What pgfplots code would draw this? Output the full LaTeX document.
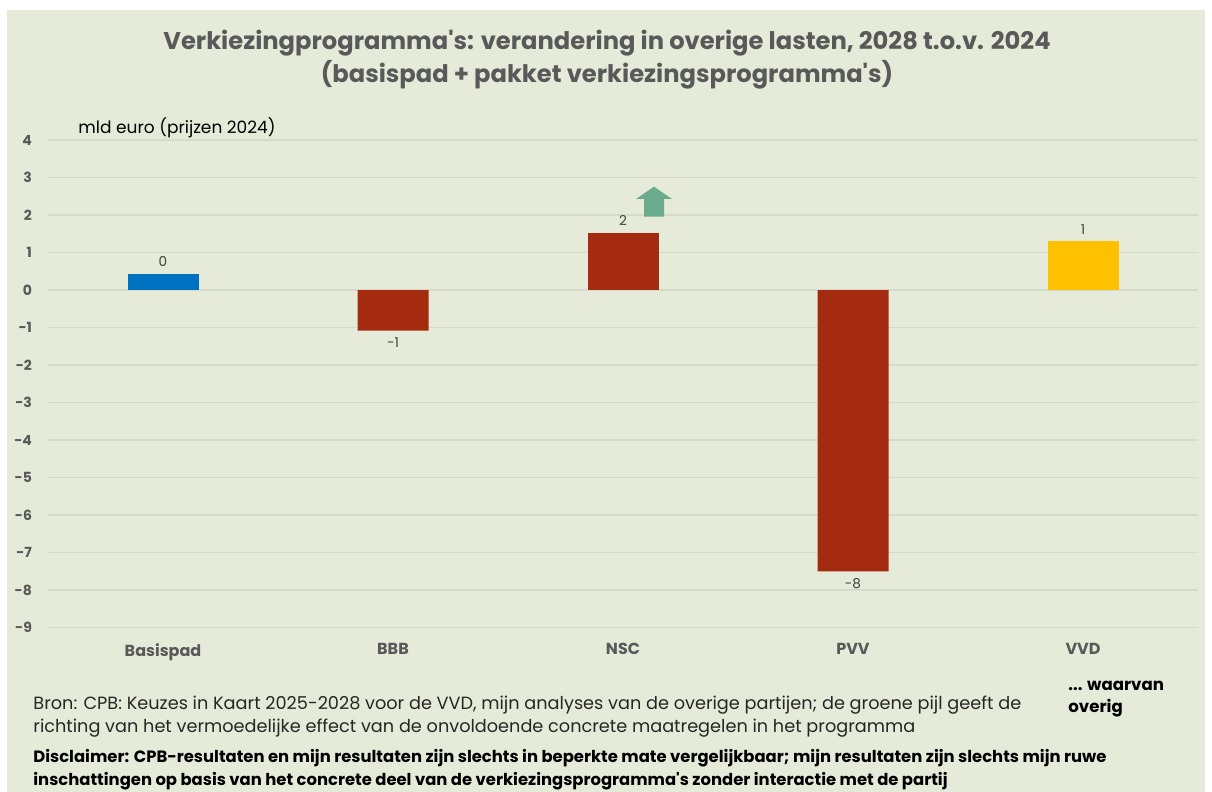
\documentclass[border=0pt]{standalone}
\usepackage{fontspec}
\setmainfont{Poppins}[Ligatures=TeXOff]
\usepackage{pgfplots}
\pgfplotsset{compat=1.18}
\definecolor{bg}{HTML}{E6EBD9}
\definecolor{gridc}{HTML}{D6DACB}
\definecolor{txt}{HTML}{595959}
\definecolor{lbl}{HTML}{404040}
\definecolor{basis}{HTML}{0070C0}
\definecolor{party}{HTML}{A52B10}
\definecolor{vvd}{HTML}{FFC000}
\definecolor{arrowc}{HTML}{6AAB8E}

\begin{document}
\begin{tikzpicture}
% background, in pixel units (1 px = 0.5pt, y downwards)
\begin{scope}[x=0.5pt,y=-0.5pt]
\path[use as bounding box,fill=white] (0,0) rectangle (1212,792);
\fill[bg] (7,10) rectangle (1205,792);
\node[txt,font=\fontsize{12.1}{16.5}\selectfont\bfseries,align=center] at (607,60)
  {Verkiezingprogramma's: verandering in overige lasten, 2028 t.o.v. 2024\\(basispad + pakket verkiezingsprogramma's)};
\node[black,anchor=west,font=\fontsize{8.5}{10}\selectfont,inner sep=0] at (78,128) {mld euro (prijzen 2024)};
\node[black!85,anchor=west,align=left,font=\fontsize{8.85}{11.5}\selectfont,inner sep=0] at (33,716.5)
  {Bron: CPB: Keuzes in Kaart 2025-2028 voor de VVD, mijn analyses van de overige partijen; de groene pijl geeft de\\richting van het vermoedelijke effect van de onvoldoende concrete maatregelen in het programma};
\node[black,anchor=west,align=left,font=\fontsize{8.2}{11.5}\selectfont\bfseries,inner sep=0] at (33,769.5)
  {Disclaimer: CPB-resultaten en mijn resultaten zijn slechts in beperkte mate vergelijkbaar; mijn resultaten zijn slechts mijn ruwe\\inschattingen op basis van het concrete deel van de verkiezingsprogramma's zonder interactie met de partij};
\node[black,anchor=west,align=left,font=\fontsize{8.3}{11}\selectfont\bfseries,inner sep=0] at (1068,699)
  {... waarvan\\overig};
\end{scope}

\begin{axis}[
    at={(24pt,-313.75pt)},
    anchor=south west,
    scale only axis,
    width=575pt,
    height=243.75pt,
    ybar,
    bar width=35.5pt,
    bar shift=0pt,
    xmin=-0.5, xmax=4.5,
    ymin=-9, ymax=4,
    xtick={0,1,2,3,4},
    xticklabels={Basispad,BBB,NSC,PVV,VVD},
    ytick={-9,-8,-7,-6,-5,-4,-3,-2,-1,0,1,2,3,4},
    yticklabels={-9,-8,-7,-6,-5,-4,-3,-2,-1,0,1,2,3,4},
    ymajorgrids=true,
    grid style={gridc,line width=0.6pt},
    axis line style={draw=none},
    major tick length=0pt,
    tick label style={txt,font=\fontsize{7}{8}\selectfont\bfseries},
    xticklabel style={font=\fontsize{8}{9}\selectfont\bfseries,yshift=-4.5pt},
    yticklabel style={xshift=-4.5pt},
    point meta=explicit symbolic,
    nodes near coords,
    every node near coord/.append style={lbl,font=\fontsize{6.8}{8}\selectfont},
    clip=false,
]
\addplot[fill=basis,draw=none] coordinates {(0,0.43) [0]};
\addplot[fill=party,draw=none] coordinates {(2,1.52) [2]};
\addplot[fill=party,draw=none,
    every node near coord/.append style={anchor=north}]
    coordinates {(1,-1.08) [-1] (3,-7.5) [-8]};
\addplot[fill=vvd,draw=none] coordinates {(4,1.3) [1]};
% green block arrow
\fill[arrowc] (axis cs:2.1348,2.755) -- (axis cs:2.213,2.427) -- (axis cs:2.1783,2.427)
  -- (axis cs:2.1783,1.955) -- (axis cs:2.0913,1.955) -- (axis cs:2.0913,2.427)
  -- (axis cs:2.0565,2.427) -- cycle;
\end{axis}
\end{tikzpicture}
\end{document}
